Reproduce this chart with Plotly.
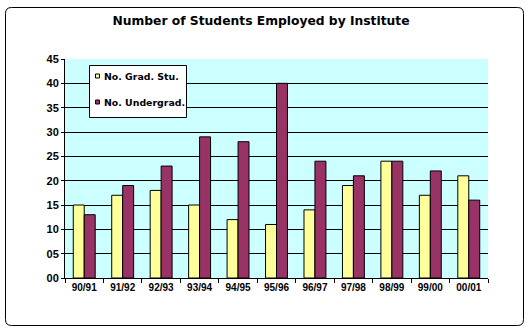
import plotly.graph_objects as go

years = ["90/91", "91/92", "92/93", "93/94", "94/95", "95/96", "96/97", "97/98", "98/99", "99/00", "00/01"]
grad = [15, 17, 18, 15, 12, 11, 14, 19, 24, 17, 21]
undergrad = [13, 19, 23, 29, 28, 40, 24, 21, 24, 22, 16]
series_names = ["No. Grad. Stu.", "No. Undergrad."]
colors = ["#FFFF99", "#993366"]

W, H = 528, 332
L, R, T, B = 65, 40, 59, 54
pw, ph = W - L - R, H - T - B
def px(x): return (x - L) / pw
def py(y): return (H - B - y) / ph

fig = go.Figure()
for name, vals, col in zip(series_names, [grad, undergrad], colors):
    fig.add_trace(go.Bar(x=years, y=vals, name=name, marker=dict(color=col, line=dict(color="black", width=1)),
                         showlegend=False))

font = "Liberation Sans, Arial, sans-serif"
wide = "DejaVu Sans, Verdana, sans-serif"
fig.update_layout(
    width=W, height=H,
    margin=dict(l=L, r=R, t=T, b=B),
    paper_bgcolor="white", plot_bgcolor="#CCFFFF",
    barmode="group", bargap=0.43, bargroupgap=0,
    font=dict(family=font, color="black", size=10),
    title=dict(text="<b>Number of Students Employed by Institute</b>", x=261 / W, xanchor="center",
               y=1 - 21 / H, yanchor="middle", xref="container", font=dict(size=12.3, family=wide, color="black")),
    xaxis=dict(type="category", tickson="boundaries", ticks="outside", ticklen=4, tickcolor="black",
               showline=True, linecolor="black", linewidth=1, showgrid=False,
               tickfont=dict(size=10, weight="bold"), range=[-0.5, len(years) - 0.5]),
    yaxis=dict(range=[0, 45], dtick=5, tickformat="02d", ticks="outside", ticklen=3, tickcolor="black",
               showline=True, linecolor="black", linewidth=1, showgrid=True, gridcolor="black", gridwidth=1,
               tickfont=dict(size=11, weight="bold"), zeroline=False),
    showlegend=False,
)

# rounded outer border
x0, x1, y0, y1, r = 5.5, 523.5, 7.5, 325.5, 6
path = (f"M {px(x0+r)},{py(y0)} L {px(x1-r)},{py(y0)} Q {px(x1)},{py(y0)} {px(x1)},{py(y0+r)} "
        f"L {px(x1)},{py(y1-r)} Q {px(x1)},{py(y1)} {px(x1-r)},{py(y1)} "
        f"L {px(x0+r)},{py(y1)} Q {px(x0)},{py(y1)} {px(x0)},{py(y1-r)} "
        f"L {px(x0)},{py(y0+r)} Q {px(x0)},{py(y0)} {px(x0+r)},{py(y0)} Z")
fig.add_shape(type="path", xref="paper", yref="paper", path=path, line=dict(color="black", width=1), layer="below")

# custom legend box
fig.add_shape(type="rect", xref="paper", yref="paper", x0=px(89.5), x1=px(186.5), y0=py(65.5), y1=py(117.5),
              fillcolor="white", line=dict(color="black", width=1), layer="above")
for i, (name, col) in enumerate(zip(series_names, colors)):
    cy = 76 + 26 * i
    fig.add_shape(type="rect", xref="paper", yref="paper", x0=px(95.5), x1=px(99.5), y0=py(cy - 2), y1=py(cy + 2),
                  fillcolor=col, line=dict(color="black", width=1), layer="above")
    fig.add_annotation(xref="paper", yref="paper", x=px(101.5), y=py(cy), xanchor="left", yanchor="middle",
                       text=f"<b>{name}</b>", showarrow=False, font=dict(size=9.4, family=wide, color="black"))

fig.write_html("out.html")
